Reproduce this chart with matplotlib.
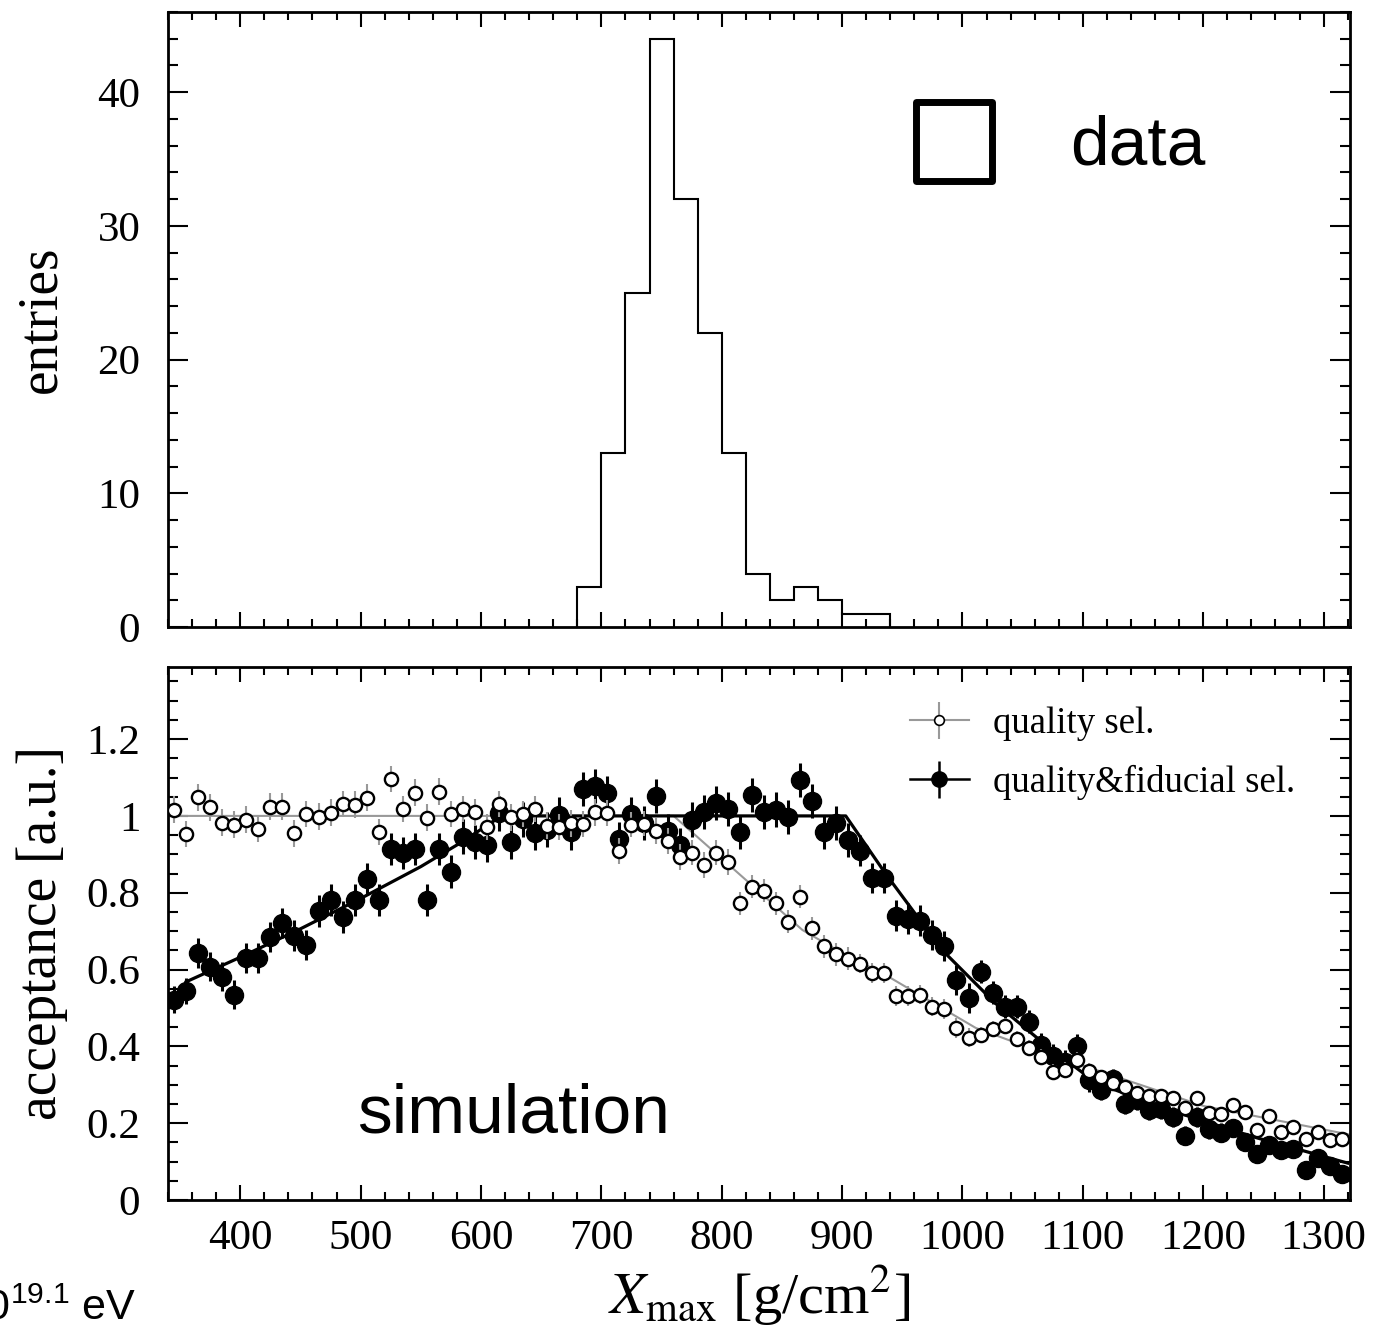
import numpy as np
import matplotlib
matplotlib.use("Agg")
import matplotlib.pyplot as plt
from matplotlib.ticker import MultipleLocator, FuncFormatter
from matplotlib.patches import Rectangle

plt.rcParams['font.family'] = ['Liberation Serif', 'DejaVu Serif']
plt.rcParams['mathtext.fontset'] = 'custom'
plt.rcParams['mathtext.rm'] = 'Liberation Sans'
plt.rcParams['mathtext.it'] = 'Liberation Sans:italic'

# --- data histogram (entries per 20 g/cm2 bin)
hist_edges = [680, 700, 720, 740, 760, 780, 800, 820, 840, 860, 880, 900, 920, 940]
hist_counts = [3, 13, 25, 44, 32, 22, 13, 4, 2, 3, 2, 1, 1]

# --- simulated acceptance, bin centres every 10 g/cm2
xmax_centres = np.arange(345, 1320, 10)

acc_quality = [
    1.016, 0.953, 1.049, 1.023, 0.982, 0.977, 0.990, 0.966, 1.024, 1.024,
    0.955, 1.005, 0.998, 1.008, 1.031, 1.029, 1.047, 0.958, 1.096, 1.018,
    1.060, 0.995, 1.063, 1.005, 1.018, 1.010, 0.971, 1.031, 0.997, 1.005,
    1.018, 0.974, 0.971, 0.981, 0.979, 1.010, 1.008, 0.909, 0.977, 0.980,
    0.961, 0.935, 0.893, 0.904, 0.872, 0.904, 0.880, 0.773, 0.815, 0.805,
    0.773, 0.724, 0.789, 0.708, 0.661, 0.640, 0.628, 0.615, 0.591, 0.591,
    0.531, 0.531, 0.534, 0.503, 0.497, 0.448, 0.422, 0.430, 0.445, 0.452,
    0.420, 0.396, 0.373, 0.333, 0.339, 0.365, 0.336, 0.320, 0.305, 0.295,
    0.278, 0.272, 0.271, 0.265, 0.240, 0.266, 0.227, 0.224, 0.247, 0.229,
    0.183, 0.219, 0.177, 0.190, 0.159, 0.177, 0.156, 0.159]
err_quality = [
    0.035, 0.035, 0.035, 0.035, 0.035, 0.035, 0.035, 0.035, 0.035, 0.035,
    0.035, 0.035, 0.035, 0.035, 0.035, 0.035, 0.035, 0.035, 0.035, 0.035,
    0.035, 0.035, 0.035, 0.035, 0.035, 0.035, 0.035, 0.035, 0.035, 0.035,
    0.035, 0.035, 0.035, 0.035, 0.035, 0.035, 0.033, 0.033, 0.033, 0.033,
    0.033, 0.033, 0.033, 0.033, 0.033, 0.033, 0.033, 0.030, 0.030, 0.030,
    0.030, 0.030, 0.030, 0.030, 0.030, 0.030, 0.030, 0.025, 0.025, 0.025,
    0.025, 0.025, 0.025, 0.025, 0.025, 0.025, 0.025, 0.020, 0.020, 0.020,
    0.020, 0.020, 0.020, 0.020, 0.020, 0.020, 0.020, 0.018, 0.018, 0.018,
    0.018, 0.018, 0.018, 0.018, 0.018, 0.018, 0.018, 0.018, 0.015, 0.015,
    0.015, 0.015, 0.015, 0.015, 0.015, 0.015, 0.015, 0.015]

acc_fiducial = [
    0.521, 0.544, 0.643, 0.607, 0.581, 0.534, 0.630, 0.630, 0.685, 0.721,
    0.688, 0.664, 0.753, 0.781, 0.737, 0.781, 0.836, 0.781, 0.914, 0.903,
    0.914, 0.781, 0.913, 0.855, 0.946, 0.932, 0.924, 1.007, 0.932, 0.991,
    0.955, 0.964, 1.003, 0.957, 1.070, 1.078, 1.059, 0.940, 1.005, 0.981,
    1.052, 0.961, 0.924, 0.990, 1.010, 1.034, 1.018, 0.958, 1.055, 1.010,
    1.016, 0.997, 1.094, 1.039, 0.958, 0.981, 0.937, 0.909, 0.838, 0.838,
    0.740, 0.732, 0.727, 0.690, 0.661, 0.573, 0.526, 0.594, 0.539, 0.503,
    0.503, 0.464, 0.404, 0.375, 0.360, 0.401, 0.312, 0.286, 0.315, 0.250,
    0.260, 0.234, 0.237, 0.216, 0.167, 0.216, 0.185, 0.175, 0.187, 0.151,
    0.120, 0.143, 0.130, 0.133, 0.078, 0.109, 0.089, 0.068]
err_fiducial = [
    0.035, 0.035, 0.038, 0.038, 0.038, 0.038, 0.040, 0.040, 0.040, 0.040,
    0.040, 0.040, 0.042, 0.042, 0.042, 0.042, 0.042, 0.042, 0.042, 0.042,
    0.042, 0.042, 0.042, 0.042, 0.045, 0.045, 0.045, 0.045, 0.045, 0.045,
    0.045, 0.045, 0.045, 0.045, 0.045, 0.045, 0.045, 0.045, 0.045, 0.045,
    0.045, 0.045, 0.045, 0.045, 0.045, 0.045, 0.045, 0.045, 0.045, 0.045,
    0.045, 0.045, 0.045, 0.045, 0.045, 0.045, 0.045, 0.040, 0.040, 0.040,
    0.040, 0.040, 0.040, 0.040, 0.040, 0.040, 0.040, 0.030, 0.030, 0.030,
    0.030, 0.030, 0.030, 0.030, 0.030, 0.030, 0.030, 0.025, 0.025, 0.025,
    0.025, 0.025, 0.025, 0.025, 0.025, 0.025, 0.025, 0.025, 0.020, 0.020,
    0.020, 0.020, 0.020, 0.020, 0.020, 0.020, 0.020, 0.020]

# fitted acceptance curves
fit_quality_x = [340, 760, 867, 900, 936, 1011, 1056, 1100, 1200, 1322]
fit_quality_y = [1.0, 1.0, 0.703, 0.643, 0.586, 0.448, 0.396, 0.350, 0.245, 0.170]
fit_fiducial_x = [355, 400, 450, 500, 550, 583, 617, 903, 936, 983, 1027,
                  1067, 1111, 1172, 1242, 1320]
fit_fiducial_y = [0.568, 0.632, 0.706, 0.785, 0.868, 0.930, 1.0, 1.0, 0.85,
                  0.651, 0.513, 0.409, 0.305, 0.234, 0.164, 0.096]

GREY = '#999999'
TICKFS = 31
LABELFS = 40

fig = plt.figure(figsize=(13.73, 13.33), dpi=100)
ax_top = fig.add_axes([0.1224, 0.5296, 0.8609, 0.4614])
ax_bot = fig.add_axes([0.1224, 0.0998, 0.8609, 0.3999])


def style_axes(ax):
    for sp in ax.spines.values():
        sp.set_linewidth(2)
    ax.tick_params(which='both', direction='in', top=True, right=True,
                   width=1.5, labelsize=TICKFS)
    ax.tick_params(axis='x', which='major', length=11, pad=14)
    ax.tick_params(axis='x', which='minor', length=5.5)
    ax.tick_params(axis='y', which='major', length=14.5, pad=20)
    ax.tick_params(axis='y', which='minor', length=7)
    ax.set_xlim(340, 1322)
    ax.xaxis.set_major_locator(MultipleLocator(100))
    ax.xaxis.set_minor_locator(MultipleLocator(20))


# ---- top: data histogram
style_axes(ax_top)
ax_top.stairs(hist_counts, hist_edges, color='black', lw=1.5, baseline=0)
ax_top.set_ylim(0, 46)
ax_top.yaxis.set_major_locator(MultipleLocator(10))
ax_top.yaxis.set_minor_locator(MultipleLocator(2))
ax_top.tick_params(axis='x', labelbottom=False)
ax_top.set_ylabel('entries', fontsize=LABELFS)
ax_top.yaxis.set_label_coords(-0.085, 0.5)

ax_top.add_patch(Rectangle((0.6327, 0.7245), 0.0643, 0.1285, transform=ax_top.transAxes,
                           fill=False, lw=5, ec='black', joinstyle='round'))
ax_top.text(0.7634, 0.7815, 'data', transform=ax_top.transAxes, fontsize=50,
            family='Liberation Sans', ha='left', va='center')

# ---- bottom: acceptance
style_axes(ax_bot)
ax_bot.plot(fit_quality_x, fit_quality_y, color=GREY, lw=1.5, zorder=2)
ax_bot.plot(fit_fiducial_x, fit_fiducial_y, color='black', lw=2.3, zorder=3)
ax_bot.errorbar(xmax_centres, acc_fiducial, yerr=err_fiducial, fmt='o', color='black',
                ms=13, elinewidth=2.2, capsize=0, zorder=4)
ax_bot.errorbar(xmax_centres, acc_quality, yerr=err_quality, fmt='o', mfc='white',
                mec='black', mew=1.7, ms=9.5, ecolor=GREY, elinewidth=1.5, capsize=0,
                zorder=5)

# legend proxies
h_q = ax_bot.errorbar([np.nan], [np.nan], yerr=[np.nan], fmt='o-', color=GREY,
                      mfc='white', mec='black', mew=1.2, ms=7, lw=1.5, capsize=0)
h_f = ax_bot.errorbar([np.nan], [np.nan], yerr=[np.nan], fmt='o-', color='black',
                      ms=11, lw=1.8, capsize=0)
ax_bot.legend([h_q, h_f], ['quality sel.', 'quality&fiducial sel.'], loc='upper left',
              bbox_to_anchor=(0.612, 0.96), frameon=False, fontsize=26.5,
              handlelength=1.6, handletextpad=0.65, labelspacing=0.65, borderpad=0)

ax_bot.set_ylim(0, 1.388)
ax_bot.yaxis.set_major_locator(MultipleLocator(0.2))
ax_bot.yaxis.set_minor_locator(MultipleLocator(0.05))
ax_bot.yaxis.set_major_formatter(FuncFormatter(lambda v, p: '%g' % round(v, 2)))
ax_bot.set_ylabel('acceptance [a.u.]', fontsize=LABELFS)
ax_bot.yaxis.set_label_coords(-0.085, 0.5)
ax_bot.set_xlabel(r'$X_{\mathrm{max}}$ [g/cm$^{2}$]', fontsize=42,
                  math_fontfamily='stix')
ax_bot.xaxis.set_label_coords(0.5, -0.118)

ax_bot.text(0.292, 0.16, 'simulation', transform=ax_bot.transAxes, fontsize=50,
            family='Liberation Sans', ha='center', va='center')

# energy tag, partly outside the left edge as in the original figure
fig.text(-38 / 1373, 1 - 1320 / 1333, r'$10^{19.1}$ eV', fontsize=31,
         family='Liberation Sans', ha='left', va='baseline', math_fontfamily='custom')

fig.savefig('out.png', dpi=100)
